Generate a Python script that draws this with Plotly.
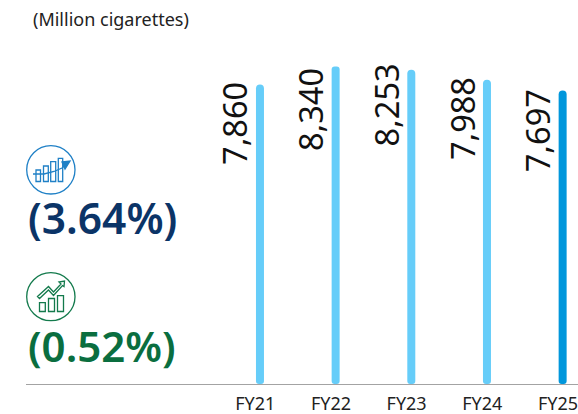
import plotly.graph_objects as go

categories = ["FY21", "FY22", "FY23", "FY24", "FY25"]
volumes = [7860, 8340, 8253, 7988, 7697]
bar_colors = ["#66cdf9", "#66cdf9", "#66cdf9", "#66cdf9", "#0097dc"]
value_labels = ["7,860", "8,340", "8,253", "7,988", "7,697"]
unit_label = "(Million cigarettes)"
cagr_five = "(3.64%)"
cagr_three = "(0.52%)"

W, H = 578, 414
L, B = 26, 30
PH = H - B
PW = W - L
BLUE = "#0b3467"
GREEN = "#0a6e3f"
ICON_BLUE = "#1f80c6"
ICON_GREEN = "#137a4c"
FONT = "Noto Sans"
LABEL_NUDGE = [5, 0.5, 8, 5, 3.5]


def px(x):
    return (x - L) / PW


def py(y):
    return (PH - y) / PH


def rect(x0, y0, x1, y1, color, width=1.3):
    return dict(type="rect", xref="paper", yref="paper", x0=px(x0), x1=px(x1), y0=py(y1), y1=py(y0),
                line=dict(color=color, width=width), fillcolor="rgba(0,0,0,0)")


def circle(x0, y0, x1, y1, color):
    d = rect(x0, y0, x1, y1, color)
    d["type"] = "circle"
    return d


def poly(points, color, width=1.3, fill=None, close=False):
    path = " ".join(("M" if i == 0 else "L") + f"{px(a):.5f},{py(b):.5f}" for i, (a, b) in enumerate(points))
    if close:
        path += " Z"
    return dict(type="path", xref="paper", yref="paper", path=path, line=dict(color=color, width=width),
                fillcolor=fill if fill else "rgba(0,0,0,0)")


shapes = [
    circle(26.7, 145.7, 75, 194, ICON_BLUE),
    rect(36, 170, 40.5, 181.5, ICON_BLUE),
    rect(43.5, 166, 48.3, 181.5, ICON_BLUE),
    rect(50.7, 161.7, 55.7, 181.5, ICON_BLUE),
    rect(58.3, 158.3, 62.7, 181.5, ICON_BLUE),
    poly([(33, 174), (44, 174), (54, 171.5), (62, 168), (68, 163)], ICON_BLUE),
    poly([(62, 162), (70, 161), (65, 169)], ICON_BLUE, fill=ICON_BLUE, close=True),
    circle(26.7, 272.7, 75, 320.7, ICON_GREEN),
    rect(39.5, 302.7, 45.3, 311.5, ICON_GREEN),
    rect(48.5, 298.5, 54.5, 311.5, ICON_GREEN),
    rect(57.5, 295.7, 63.5, 311.5, ICON_GREEN),
    poly([(37.5, 296.5), (48.5, 286.5), (53.5, 292), (61, 284), (59, 282), (64.5, 281), (64, 286.5), (62.5, 285.5),
          (53.5, 295.5), (48.5, 290), (39.5, 298.5)], ICON_GREEN, close=True),
]

annotations = [
    dict(x=i, y=v, text=t, xref="x", yref="y", showarrow=False, textangle=-90, xanchor="center", yanchor="top",
         xshift=-25, yshift=n, font=dict(family=FONT, size=32.5, color="#111111"))
    for i, (v, t, n) in enumerate(zip(volumes, value_labels, LABEL_NUDGE))
]
annotations += [
    dict(x=px(30.5), y=py(19), xref="paper", yref="paper", text=unit_label, showarrow=False, xanchor="left",
         yanchor="middle", font=dict(family=FONT, size=18, color="#222222")),
    dict(x=px(25.5), y=py(218), xref="paper", yref="paper", text=cagr_five, showarrow=False, xanchor="left",
         yanchor="middle", font=dict(family=FONT, size=42.5, color=BLUE, weight=600)),
    dict(x=px(25.5), y=py(345), xref="paper", yref="paper", text=cagr_three, showarrow=False, xanchor="left",
         yanchor="middle", font=dict(family=FONT, size=42, color=GREEN, weight=600)),
]

xs = list(range(len(categories)))
fig = go.Figure()
fig.add_bar(x=xs, y=volumes, width=0.1057, marker=dict(color=bar_colors, line_width=0, cornerradius=4),
            hoverinfo="x+y")
fig.add_bar(x=xs, y=[-106] * len(xs), width=0.1057, marker=dict(color=bar_colors, line_width=0, cornerradius=4),
            hoverinfo="skip")
fig.update_layout(
    width=W, height=H, autosize=False, barmode="overlay", showlegend=False,
    margin=dict(l=L, r=0, t=0, b=B, pad=0), paper_bgcolor="white", plot_bgcolor="white",
    shapes=shapes, annotations=annotations,
    xaxis=dict(range=[-3.092, 4.203], tickmode="array", tickvals=[i - 0.062 for i in xs], ticktext=categories,
               ticks="", showgrid=False, zeroline=False, showline=True, linecolor="#a3a3a3", linewidth=1,
               tickfont=dict(family=FONT, size=18, color="#222222"), ticklabelstandoff=3,
               ticklabeloverflow="allow"),
    yaxis=dict(range=[-106, 10106], visible=False, showgrid=False, zeroline=False),
)
fig.write_html("out.html", config=dict(displayModeBar=False),
               post_script="document.body.style.margin='0';document.body.style.overflow='hidden';")
